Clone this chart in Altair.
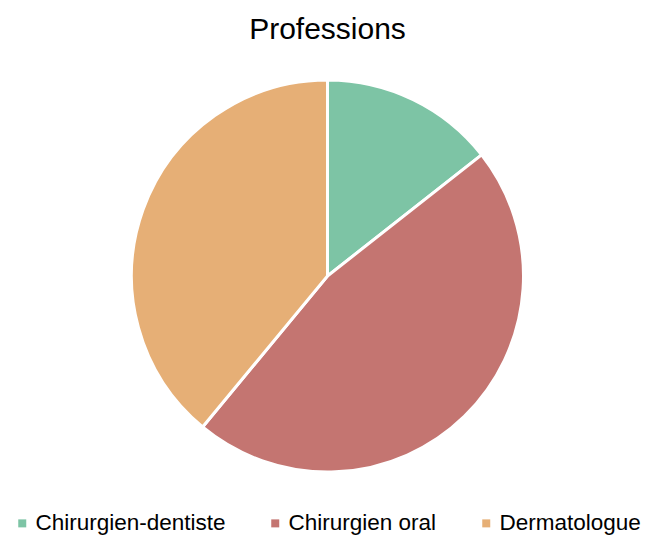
import altair as alt
import pandas as pd

categories = ["Chirurgien-dentiste", "Chirurgien oral", "Dermatologue"]
values = [14.4, 46.6, 39.0]
colors = ["#7DC4A5", "#C47571", "#E6AF76"]

df = pd.DataFrame({"Profession": categories, "Valeur": values, "ordre": list(range(len(categories)))})

chart = alt.Chart(df).mark_arc(outerRadius=196, stroke="white", strokeWidth=3).encode(
    theta=alt.Theta("Valeur:Q", stack=True),
    order=alt.Order("ordre:Q"),
    color=alt.Color(
        "Profession:N",
        sort=categories,
        scale=alt.Scale(domain=categories, range=colors),
        legend=alt.Legend(
            title=None,
            orient="none",
            legendX=3,
            legendY=456,
            padding=0,
            direction="horizontal",
            labelFontSize=22.5,
            labelFont="Liberation Sans",
            labelColor="#000000",
            labelLimit=0,
            labelOffset=2,
            symbolType="square",
            symbolSize=64,
            symbolStrokeWidth=0,
            columnPadding=38,
        ),
    ),
).properties(
    width=639,
    height=440,
    title=alt.Title("Professions", fontSize=30, font="Liberation Sans", fontWeight="normal", color="#000000", offset=11),
    padding={"top": 7, "left": 0, "right": 0, "bottom": 0},
).configure_view(stroke=None)

chart.save("out.html", embed_options={"renderer": "svg", "actions": False})
